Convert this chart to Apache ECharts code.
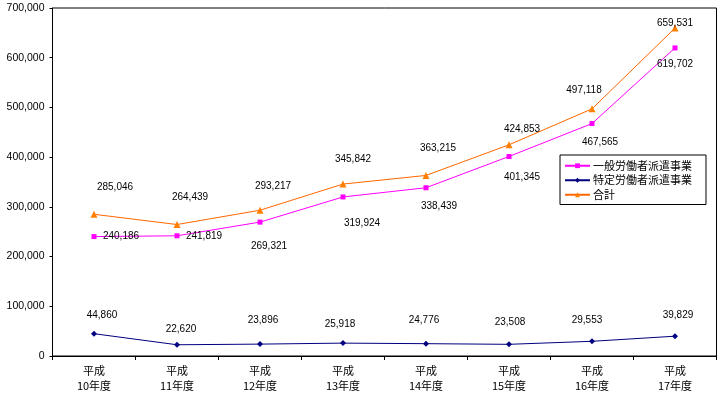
<!DOCTYPE html>
<html>
<head>
<meta charset="utf-8">
<script src="https://cdn.jsdelivr.net/npm/echarts@6/dist/echarts.min.js"></script>
<style>
html,body{margin:0;padding:0;background:#fff;}
#c{width:721px;height:396px;}
</style>
</head>
<body>
<div id="c"></div>
<script>
// ---- data ----
var categories = ['平成\n10年度','平成\n11年度','平成\n12年度','平成\n13年度','平成\n14年度','平成\n15年度','平成\n16年度','平成\n17年度'];
var seriesNames = ['一般労働者派遣事業','特定労働者派遣事業','合計'];
var ippan = [240186, 241819, 269321, 319924, 338439, 401345, 467565, 619702];
var tokutei = [44860, 22620, 23896, 25918, 24776, 23508, 29553, 39829];
var total = [285046, 264439, 293217, 345842, 363215, 424853, 497118, 659531];
var yTicks = [0, 100000, 200000, 300000, 400000, 500000, 600000, 700000];

// ---- label placement (style) ----
var offIppan = [[27,0],[27,0],[9,24],[19,26],[13,19],[13,21],[8,19],[0,16]];
var offTokutei = [[8,-18],[4,-16],[3,-24],[-3,-19],[-2,-23],[1,-22],[-5,-21],[3,-21]];
var offTotal = [[21,-27],[13,-27],[13,-24],[10,-25],[12,-27],[13,-16],[-8,-19],[0,-5]];

function fmt(v){ return v.toString().replace(/\B(?=(\d{3})+(?!\d))/g, ','); }
function build(vals, offs){
  return vals.map(function(v, i){
    return { value: v, label: { offset: offs[i] } };
  });
}
var numFont = 'Liberation Sans, Arial, sans-serif';
var cjkFont = '"Noto Sans CJK JP", sans-serif';
var labelBase = {
  show: true, position: 'inside', color: '#000', fontSize: 10, fontFamily: numFont,
  formatter: function(p){ return fmt(p.value); }
};

var chart = echarts.init(document.getElementById('c'), null, {renderer: 'canvas'});
chart.setOption({
  animation: false,
  backgroundColor: '#fff',
  grid: { left: 52.5, right: 4.5, top: 8, bottom: 40, show: true, borderColor: '#000', borderWidth: 1, containLabel: false },
  legend: {
    orient: 'vertical', left: 560, top: 155,
    data: seriesNames,
    backgroundColor: '#fff', borderColor: '#000', borderWidth: 1,
    padding: [4, 14, 3, 4], itemGap: 1, itemWidth: 25, itemHeight: 6,
    textStyle: { fontSize: 11, fontFamily: cjkFont, color: '#000', lineHeight: 13.5, padding: [0,0,0,-2] }
  },
  xAxis: {
    type: 'category', data: categories, boundaryGap: true,
    axisLine: { lineStyle: { color: '#000', width: 1 } },
    axisTick: { show: true, length: 4, lineStyle: { color: '#000' } },
    axisLabel: { color: '#000', fontSize: 11, fontFamily: cjkFont, lineHeight: 15, margin: 7, interval: 0 },
    splitLine: { show: false }
  },
  yAxis: {
    type: 'value', min: yTicks[0], max: yTicks[yTicks.length - 1], interval: yTicks[1] - yTicks[0],
    axisLine: { show: true, lineStyle: { color: '#000', width: 1 } },
    axisTick: { show: true, length: 3, lineStyle: { color: '#000' } },
    axisLabel: { color: '#000', fontSize: 10.5, fontFamily: numFont, margin: 8, formatter: function(v){ return fmt(v); } },
    splitLine: { show: false }
  },
  series: [
    {
      name: seriesNames[0], type: 'line', data: build(ippan, offIppan),
      symbol: 'rect', symbolSize: 5,
      lineStyle: { color: '#FF00FF', width: 1 }, itemStyle: { color: '#FF00FF' },
      label: labelBase, z: 3
    },
    {
      name: seriesNames[1], type: 'line', data: build(tokutei, offTokutei),
      symbol: 'diamond', symbolSize: 6,
      lineStyle: { color: '#000080', width: 1 }, itemStyle: { color: '#000080' },
      label: labelBase, z: 3
    },
    {
      name: seriesNames[2], type: 'line', data: build(total, offTotal),
      symbol: 'triangle', symbolSize: 7,
      lineStyle: { color: '#FF6600', width: 1 }, itemStyle: { color: '#FF8000' },
      label: labelBase, z: 4
    }
  ]
});
</script>
</body>
</html>
